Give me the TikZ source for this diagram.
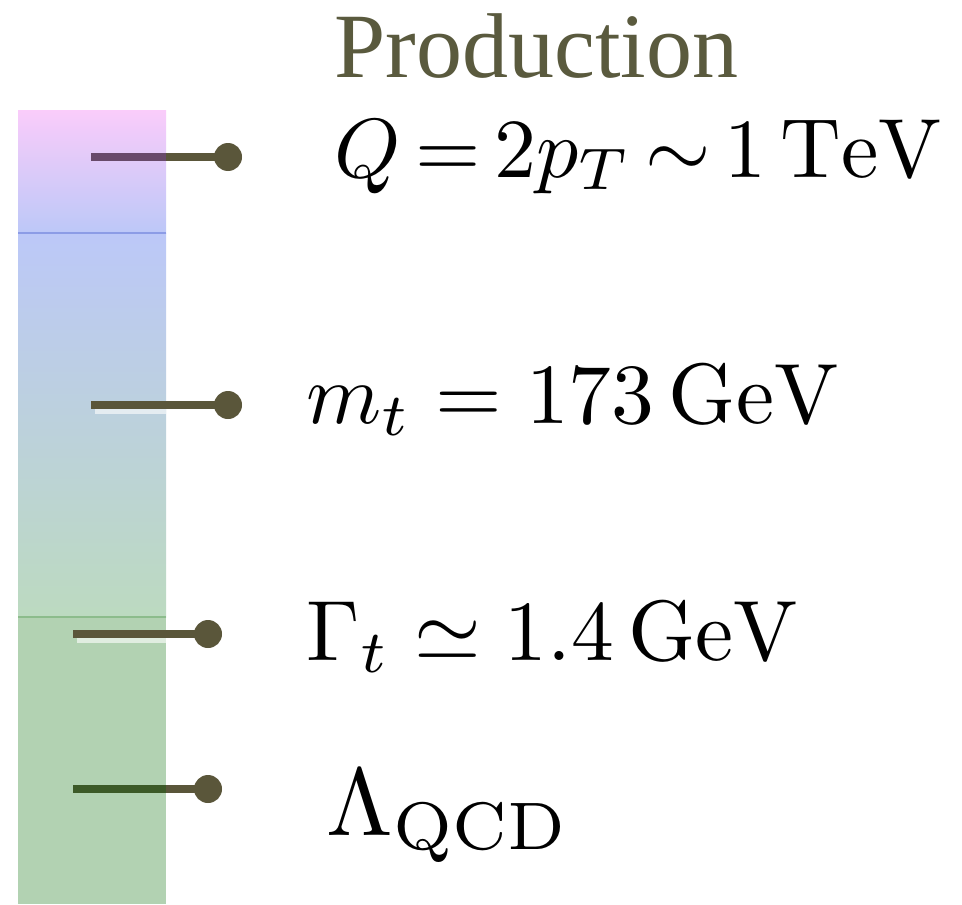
\documentclass[tikz,border=0pt]{standalone}
\usepackage{fontspec}
\newfontfamily\prodfont{Liberation Serif}
\definecolor{olive}{RGB}{90,86,58}
\definecolor{prodcol}{RGB}{90,90,62}
\definecolor{pinktop}{RGB}{250,204,250}
\definecolor{bluemid}{RGB}{188,200,248}
\definecolor{greenmid}{RGB}{188,218,192}
\definecolor{greenlow}{RGB}{178,210,178}
\definecolor{bluediv}{RGB}{140,156,230}
\definecolor{greendiv}{RGB}{140,188,140}
\definecolor{purpleline}{RGB}{104,74,106}
\definecolor{greenline}{RGB}{60,90,40}
\tikzset{
  scaleline/.style={line width=4pt, olive},
  dot/.style={circle, fill=olive, inner sep=0pt, minimum size=14pt},
  label/.style={anchor=base west, inner sep=0pt, scale=4.28},
  glow/.style={white, line width=2.5pt, opacity=0.6},
}
\begin{document}
\begin{tikzpicture}[x=0.5pt,y=-0.5pt]
\useasboundingbox (0,0) rectangle (962,904);
\fill[white] (0,0) rectangle (962,904);
% bar
\shade[top color=pinktop, bottom color=bluemid] (18,110) rectangle (166,233);
\shade[top color=bluemid, bottom color=greenmid] (18,233) rectangle (166,617);
\fill[greenlow] (18,617) rectangle (166,904);
\draw[bluediv, line width=0.6pt] (18,233) -- (166,233);
\draw[greendiv, line width=0.6pt] (18,617) -- (166,617);
% lines and dots
\node[dot] (d1) at (228,157) {};
\node[dot] (d2) at (228,405) {};
\node[dot] (d3) at (208,634) {};
\node[dot] (d4) at (208,789) {};
\coordinate (s1) at (91,157);
\coordinate (s2) at (91,405);
\coordinate (s3) at (73,634);
\coordinate (s4) at (73,789);
\draw[glow] (95,411) -- (166,411);
\draw[glow] (77,640) -- (166,640);
\draw[scaleline] (s1) -- (d1.center);
\draw[scaleline] (s2) -- (d2.center);
\draw[scaleline] (s3) -- (d3.center);
\draw[scaleline] (s4) -- (d4.center);
% tinted inner segments
\draw[line width=4pt, purpleline] (s1) -- (166,157);
\draw[line width=4pt, greenline] (s4) -- (166,789);
% texts
\node[anchor=base west, inner sep=0pt, text=prodcol, font=\prodfont\fontsize{46}{55}\selectfont] (prod) at (334,78) {Production};
\node[label, scale=4.2/4.28] (q) at (333,177) {$Q\mkern-2mu = \mkern-2mu 2p_T \mkern-2mu\sim\mkern-2mu 1\,\mathrm{TeV}$};
\node[label] (m) at (305,423) {$m_t = 173\,\mathrm{GeV}$};
\node[label] (g) at (305,660) {$\Gamma_t \simeq 1.4\,\mathrm{GeV}$};
\node[anchor=base west, inner sep=0pt, scale=4.8] (l) at (325,835) {$\Lambda_{\mathrm{QCD}}$};
\end{tikzpicture}
\end{document}
